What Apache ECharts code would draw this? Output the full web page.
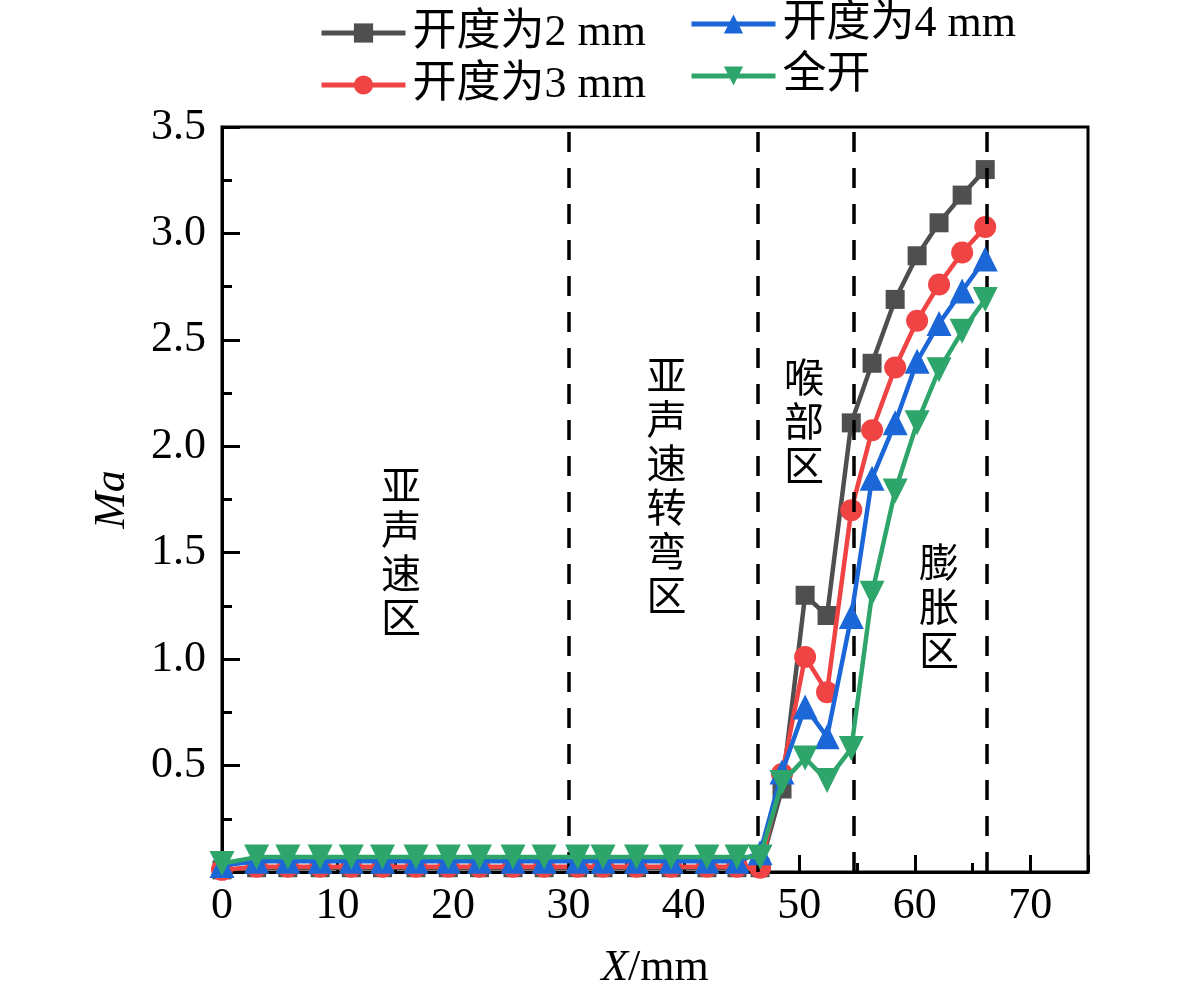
<!DOCTYPE html>
<html>
<head>
<meta charset="utf-8">
<script src="https://cdn.jsdelivr.net/npm/echarts@6/dist/echarts.min.js"></script>
<style>
html,body{margin:0;padding:0;background:#fff;}
#chart{width:1181px;height:995px;}
</style>
</head>
<body>
<div id="chart"></div>
<script>
// ---- data ----
const xPositions = [0, 3.0, 5.7, 8.5, 11.2, 13.9, 16.8, 19.6, 22.3, 25.2, 27.9, 30.8, 33.0, 35.9, 38.9, 42.0, 44.6, 46.6, 48.5, 50.5, 52.4, 54.5, 56.3, 58.3, 60.2, 62.1, 64.1, 66.1];
const ma2mm = [0.01, 0.02, 0.02, 0.02, 0.02, 0.02, 0.02, 0.02, 0.02, 0.02, 0.02, 0.02, 0.02, 0.02, 0.02, 0.02, 0.02, 0.02, 0.39, 1.30, 1.205, 2.11, 2.39, 2.69, 2.895, 3.05, 3.18, 3.30];
const ma3mm = [0.01, 0.025, 0.025, 0.025, 0.025, 0.025, 0.025, 0.025, 0.025, 0.025, 0.025, 0.025, 0.025, 0.025, 0.025, 0.025, 0.025, 0.02, 0.46, 1.01, 0.845, 1.70, 2.075, 2.37, 2.59, 2.76, 2.91, 3.03];
const ma4mm = [0.03, 0.05, 0.05, 0.05, 0.05, 0.05, 0.05, 0.05, 0.05, 0.05, 0.05, 0.05, 0.05, 0.05, 0.05, 0.05, 0.05, 0.09, 0.47, 0.775, 0.635, 1.20, 1.85, 2.11, 2.40, 2.577, 2.73, 2.88];
const maFull = [0.04, 0.07, 0.07, 0.07, 0.07, 0.07, 0.07, 0.07, 0.07, 0.07, 0.07, 0.07, 0.07, 0.07, 0.07, 0.07, 0.07, 0.07, 0.42, 0.535, 0.43, 0.58, 1.31, 1.79, 2.11, 2.36, 2.54, 2.69];
const seriesNames = ['开度为2 mm', '开度为3 mm', '开度为4 mm', '全开'];
const zoneLines = [30, 46.4, 54.7, 66.2];
const zoneLabels = ['亚声速区', '亚声速转弯区', '喉部区', '膨胀区'];
const zoneLabelPos = [[15.5, 1.51], [38.5, 1.82], [50.4, 2.12], [62.1, 1.25]];

const FONT = "'Liberation Serif','Times New Roman','Noto Sans CJK SC',serif";
const colors = ['#4f4f4f', '#f04343', '#1c67d8', '#2ea56b'];
const symbols = ['rect', 'circle', 'triangle', 'triangle'];
const symbolSizes = [19, 22, 25, 25];
const rotations = [0, 0, 0, 180];
const allData = [ma2mm, ma3mm, ma4mm, maFull];

const chart = echarts.init(document.getElementById('chart'));

const series = allData.map((vals, i) => ({
  name: seriesNames[i],
  type: 'line',
  data: xPositions.map((x, j) => [x, vals[j]]),
  symbol: symbols[i],
  symbolSize: symbolSizes[i],
  symbolRotate: rotations[i],
  lineStyle: {color: colors[i], width: 4.5},
  itemStyle: {color: colors[i]},
  z: 3 + i
}));

series.push({
  name: 'zones',
  type: 'line',
  data: [],
  silent: true,
  markLine: {
    silent: true,
    symbol: 'none',
    label: {show: false},
    lineStyle: {color: '#000', width: 3.5, type: [20, 16]},
    data: zoneLines.map(v => ({xAxis: v}))
  },
  z: 2
});

const legendCommon = {
  orient: 'vertical',
  itemWidth: 84, itemHeight: 24, itemGap: 8,
  lineStyle: {width: 5},
  textStyle: {fontFamily: FONT, fontSize: 44, color: '#000', padding: [0, 0, 0, 2]}
};

const option = {
  animation: false,
  backgroundColor: '#fff',
  grid: {left: 222, right: 93, top: 127, bottom: 118, show: true, borderColor: '#000', borderWidth: 3, backgroundColor: 'transparent'},
  legend: [
    Object.assign({data: [seriesNames[0], seriesNames[1]], left: 314, top: 6}, legendCommon),
    Object.assign({data: [seriesNames[2], seriesNames[3]], left: 684, top: -3}, legendCommon)
  ],
  xAxis: {
    type: 'value', min: 0, max: 75, interval: 10,
    name: '{i|X}/mm', nameLocation: 'middle', nameGap: 74,
    nameTextStyle: {fontFamily: FONT, fontSize: 44, color: '#000', rich: {i: {fontFamily: FONT, fontSize: 44, fontStyle: 'italic', color: '#000'}}},
    axisLine: {lineStyle: {color: '#000', width: 3}},
    axisTick: {inside: true, length: 17, lineStyle: {color: '#000', width: 3}},
    minorTick: {show: true, splitNumber: 2, length: 9, lineStyle: {color: '#000', width: 3}},
    axisLabel: {fontFamily: FONT, fontSize: 44, color: '#000', margin: 12,
      formatter: v => (v % 10 === 0 ? String(v) : '')},
    splitLine: {show: false}
  },
  yAxis: {
    type: 'value', min: 0, max: 3.5, interval: 0.5,
    name: 'Ma', nameLocation: 'middle', nameGap: 88,
    nameTextStyle: {fontFamily: FONT, fontSize: 44, fontStyle: 'italic', color: '#000'},
    axisLine: {lineStyle: {color: '#000', width: 3}},
    axisTick: {inside: true, length: 18, lineStyle: {color: '#000', width: 3}},
    minorTick: {show: true, splitNumber: 2, length: 10, lineStyle: {color: '#000', width: 3}},
    axisLabel: {fontFamily: FONT, fontSize: 44, color: '#000', margin: 16,
      formatter: v => (v === 0 ? '' : v.toFixed(1))},
    splitLine: {show: false}
  },
  series: series
};

chart.setOption(option);

const graphics = zoneLabels.map((t, i) => {
  const p = chart.convertToPixel({gridIndex: 0}, zoneLabelPos[i]);
  return {
    type: 'text',
    x: p[0], y: p[1],
    style: {
      text: t.split('').join('\n'),
      fontFamily: "'Noto Sans CJK SC',sans-serif",
      fontSize: 40, lineHeight: 44,
      fill: '#000', align: 'center', verticalAlign: 'middle'
    },
    z: 10
  };
});
chart.setOption({graphic: graphics});
</script>
</body>
</html>
